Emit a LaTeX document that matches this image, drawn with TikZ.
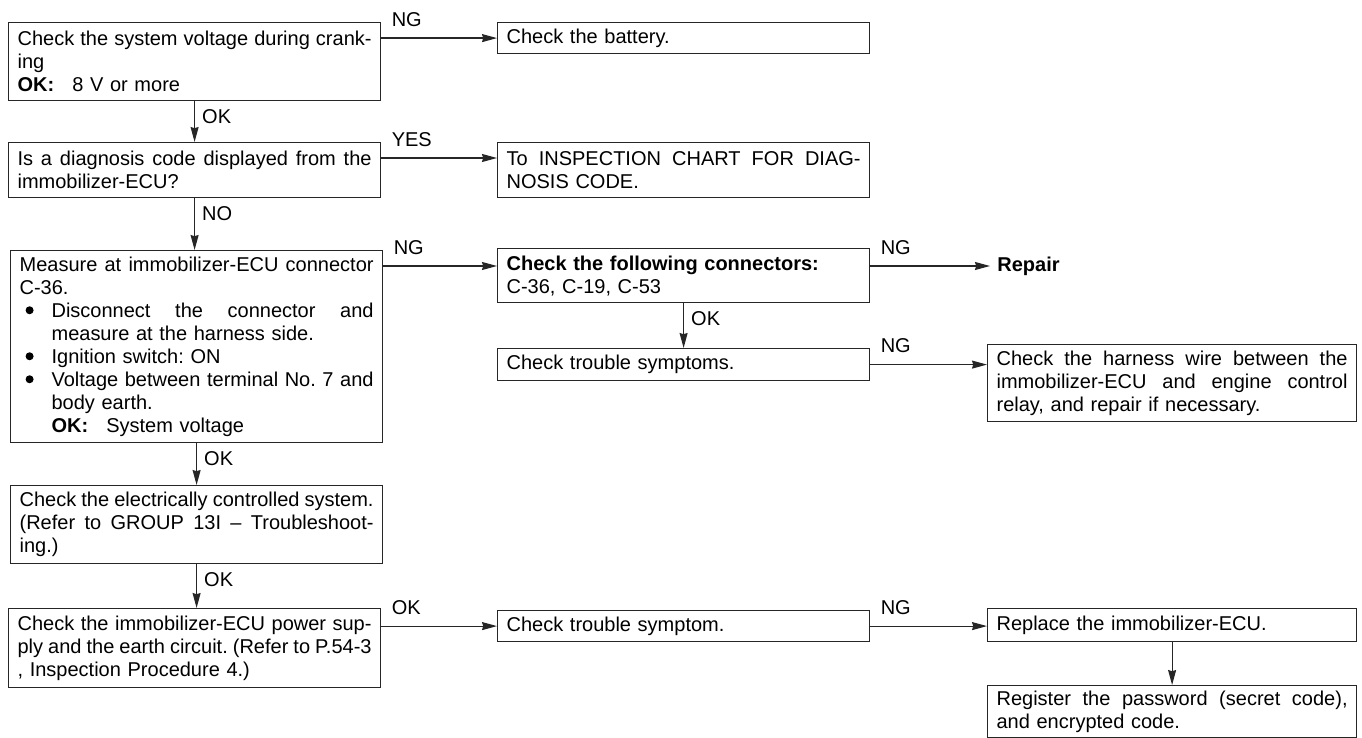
\documentclass[tikz,border=0pt]{standalone}
\usepackage{fontspec}
\setmainfont{Liberation Sans}
\usetikzlibrary{arrows.meta, positioning, calc}
\frenchspacing

\newcommand{\bul}{\makebox[16pt][l]{\hspace{3pt}\tikz[baseline=-3.5pt]\fill (0,0) circle (2pt);}}
\newcommand{\fullline}[2][177pt]{\makebox[#1][s]{\spaceskip=.278em plus 1em minus .1em\relax #2}}
\newcommand{\bulline}[1]{\bul\fullline[161pt]{#1}}

\begin{document}
\begin{tikzpicture}[x=0.5pt, y=-0.5pt,
  box/.style={rectangle, draw=black!85, line width=0.6pt, anchor=north west,
              inner xsep=4.5pt, inner ysep=2pt, text width=177pt, align=left,
              font=\fontsize{10pt}{11.5pt}\selectfont},
  nbox/.style={box, text width=175.5pt},
  arr/.style={-{Stealth[length=7.5pt, width=4pt, inset=0.6pt]}, line width=0.6pt, color=black!85},
  hlbl/.style={pos=0, anchor=south west, inner sep=0pt, xshift=5pt, yshift=5.5pt,
               text=black, font=\fontsize{10pt}{11.5pt}\selectfont},
  vlbl/.style={pos=0, anchor=north west, inner sep=0pt, xshift=3.5pt, yshift=-4pt,
               text=black, font=\fontsize{10pt}{11.5pt}\selectfont}
]
\useasboundingbox (0,0) rectangle (1362,738);

% left column
\node[box, minimum height=39pt] (volt) at (8,22)
  {\fullline{Check the system voltage during crank-}\\ing\\
   \textbf{OK:}\hspace{9pt}8 V or more};
\node[box, minimum height=27.5pt] (code) at (8,142)
  {\fullline{Is a diagnosis code displayed from the}\\immobilizer-ECU?};
\node[box, minimum height=96pt] (meas) at (10,250)
  {\fullline{Measure at immobilizer-ECU connector}\\C-36.\\
   \bulline{Disconnect the connector and}\\
   \hspace*{16pt}measure at the harness side.\\
   \bul Ignition switch: ON\\
   \bulline{Voltage between terminal No. 7 and}\\
   \hspace*{16pt}body earth.\\
   \hspace*{16pt}\textbf{OK:}\hspace{9pt}System voltage};
\node[box, minimum height=39pt] (elec) at (10,485)
  {\fullline{Check the electrically controlled system.}\\
   \fullline{(Refer to GROUP 13I \textendash{} Troubleshoot-}\\ing.)};
\node[box, minimum height=39.5pt] (power) at (8,608)
  {\fullline{Check the immobilizer-ECU power sup-}\\
   \fullline{ply and the earth circuit. (Refer to P.54-3}\\
   , Inspection Procedure 4.)};

% middle column
\node[box, minimum height=15.5pt] (batt) at (497,22) {Check the battery.};
\node[box, minimum height=27.5pt] (chart) at (497,142)
  {\fullline{To INSPECTION CHART FOR DIAG-}\\NOSIS CODE.};
\node[box, minimum height=27pt] (conn) at (497,248)
  {\textbf{Check the following connectors:}\\C-36, C-19, C-53};
\node[box, minimum height=16pt] (symps) at (497,348) {Check trouble symptoms.};
\node[box, minimum height=15.5pt] (symp) at (497,610) {Check trouble symptom.};

% right column
\node[anchor=west, inner sep=3.5pt, font=\fontsize{10pt}{11.5pt}\selectfont\bfseries]
  (repair) at (990,266) {Repair};
\node[nbox, minimum height=38.5pt] (wire) at (987,344)
  {\fullline[175.5pt]{Check the harness wire between the}\\
   \fullline[175.5pt]{immobilizer-ECU and engine control}\\
   relay, and repair if necessary.};
\node[nbox, minimum height=16.5pt] (repl) at (987,608) {Replace the immobilizer-ECU.};
\node[nbox, minimum height=26pt] (reg) at (987,685)
  {\fullline[175.5pt]{Register the password (secret code),}\\and encrypted code.};

\coordinate (chartIn) at ([yshift=-8pt]chart.north west);
\coordinate (connIn) at ([yshift=-9pt]conn.north west);

% connectors
\draw[arr] (volt.east |- batt.west) -- node[hlbl]{NG} (batt.west);
\draw[arr] (volt.south) -- node[vlbl]{OK} (code.north);
\draw[arr] (code.east |- chartIn) -- node[hlbl]{YES} (chartIn);
\draw[arr] (code.south) -- node[vlbl]{NO} (code.south |- meas.north);
\draw[arr] (meas.east |- connIn) -- node[hlbl]{NG} (connIn);
\draw[arr] (conn.east |- repair) -- node[hlbl]{NG} (repair.west);
\draw[arr] (conn.south) -- node[vlbl]{OK} (symps.north);
\draw[arr] (symps.east) -- node[hlbl]{NG} (symps.east -| wire.west);
\draw[arr] (meas.south) -- node[vlbl]{OK} (meas.south |- elec.north);
\draw[arr] (elec.south) -- node[vlbl]{OK} (elec.south |- power.north);
\draw[arr] (power.east |- symp.west) -- node[hlbl]{OK} (symp.west);
\draw[arr] (symp.east) -- node[hlbl]{NG} (symp.east -| repl.west);
\draw[arr] (repl.south) -- (repl.south |- reg.north);
\end{tikzpicture}
\end{document}
